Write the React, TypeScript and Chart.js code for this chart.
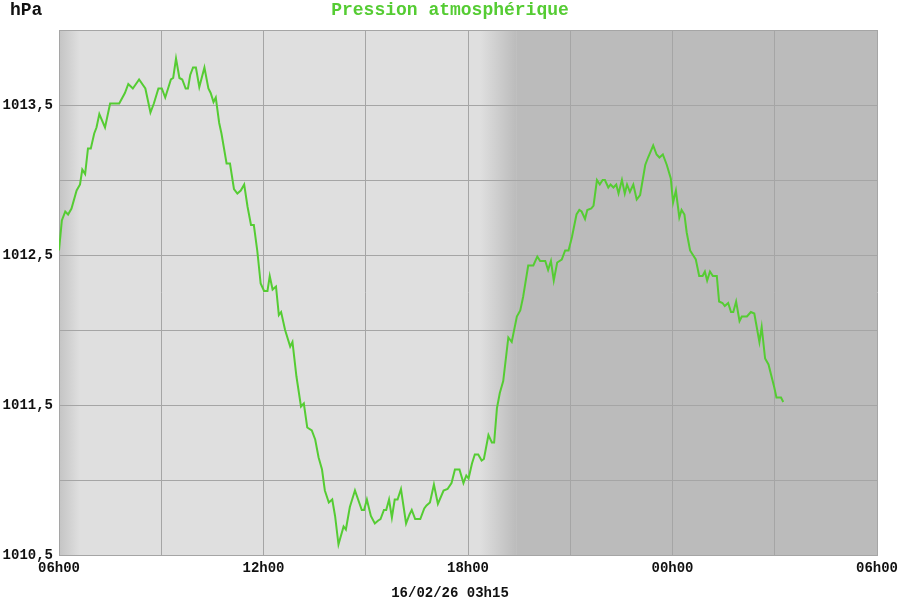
import React, { useEffect, useRef } from "react";
import { Chart, registerables } from "chart.js";

Chart.register(...registerables);

// Minutes elapsed since 06h00 (16/02/26 06h00 -> next day 06h00)
const minutes = [
  0, 5, 11, 16, 22, 31, 37, 41, 46, 51, 56, 62, 66, 71, 81, 90, 106, 116, 122, 130,
  141, 152, 161, 167, 175, 181, 187, 192, 197, 201, 206, 212, 217, 223, 227, 231, 236, 241, 247, 256,
  263, 267, 272, 276, 282, 286, 295, 301, 308, 314, 320, 326, 332, 338, 343, 349, 355, 361, 367, 371,
  376, 382, 387, 391, 398, 407, 411, 418, 426, 431, 437, 445, 451, 457, 463, 468, 475, 481, 486, 492,
  501, 505, 512, 521, 533, 537, 542, 549, 556, 562, 566, 572, 576, 581, 586, 591, 596, 602, 611, 617,
  621, 627, 636, 643, 647, 653, 660, 667, 677, 684, 691, 697, 705, 712, 717, 721, 727, 732, 738, 744,
  748, 756, 762, 766, 771, 776, 782, 791, 797, 806, 812, 817, 826, 835, 842, 847, 856, 861, 866, 871,
  877, 885, 891, 897, 903, 911, 916, 920, 926, 930, 937, 941, 947, 952, 957, 961, 967, 971, 976, 981,
  985, 991, 996, 1000, 1005, 1011, 1017, 1023, 1032, 1037, 1046, 1052, 1057, 1063, 1070, 1077, 1081, 1086, 1092, 1096,
  1101, 1105, 1111, 1121, 1127, 1133, 1137, 1141, 1146, 1151, 1158, 1162, 1168, 1172, 1178, 1183, 1187, 1192, 1198, 1202,
  1211, 1218, 1224, 1233, 1237, 1243, 1249, 1259, 1263, 1271, 1275,
];

// Pression (hPa)
const pressure = [
  1012.53, 1012.73, 1012.79, 1012.77, 1012.81, 1012.93, 1012.97, 1013.07, 1013.04, 1013.21, 1013.21, 1013.31, 1013.35, 1013.44, 1013.35, 1013.51, 1013.51, 1013.58, 1013.64, 1013.61,
  1013.67, 1013.61, 1013.45, 1013.51, 1013.61, 1013.61, 1013.55, 1013.61, 1013.67, 1013.68, 1013.81, 1013.68, 1013.67, 1013.61, 1013.61, 1013.70, 1013.75, 1013.75, 1013.62, 1013.75,
  1013.61, 1013.58, 1013.52, 1013.55, 1013.38, 1013.31, 1013.11, 1013.11, 1012.94, 1012.91, 1012.93, 1012.97, 1012.82, 1012.70, 1012.70, 1012.53, 1012.31, 1012.26, 1012.26, 1012.36,
  1012.27, 1012.29, 1012.10, 1012.12, 1012.00, 1011.89, 1011.92, 1011.69, 1011.49, 1011.51, 1011.35, 1011.33, 1011.27, 1011.15, 1011.07, 1010.93, 1010.85, 1010.87, 1010.76, 1010.57,
  1010.69, 1010.67, 1010.82, 1010.93, 1010.80, 1010.80, 1010.87, 1010.76, 1010.71, 1010.73, 1010.74, 1010.80, 1010.80, 1010.87, 1010.75, 1010.87, 1010.87, 1010.94, 1010.71, 1010.77,
  1010.80, 1010.74, 1010.74, 1010.81, 1010.83, 1010.85, 1010.97, 1010.84, 1010.93, 1010.94, 1010.98, 1011.07, 1011.07, 1010.98, 1011.03, 1011.01, 1011.11, 1011.17, 1011.17, 1011.13,
  1011.14, 1011.30, 1011.25, 1011.25, 1011.48, 1011.58, 1011.66, 1011.95, 1011.92, 1012.09, 1012.13, 1012.22, 1012.43, 1012.43, 1012.49, 1012.46, 1012.46, 1012.40, 1012.46, 1012.33,
  1012.45, 1012.47, 1012.53, 1012.53, 1012.62, 1012.77, 1012.80, 1012.79, 1012.74, 1012.80, 1012.81, 1012.83, 1013.00, 1012.97, 1013.00, 1013.00, 1012.95, 1012.97, 1012.95, 1012.97,
  1012.91, 1013.00, 1012.91, 1012.97, 1012.92, 1012.97, 1012.87, 1012.90, 1013.10, 1013.15, 1013.23, 1013.17, 1013.15, 1013.17, 1013.10, 1013.01, 1012.85, 1012.93, 1012.75, 1012.80,
  1012.77, 1012.65, 1012.53, 1012.47, 1012.36, 1012.36, 1012.39, 1012.33, 1012.39, 1012.36, 1012.36, 1012.19, 1012.18, 1012.16, 1012.18, 1012.12, 1012.12, 1012.19, 1012.06, 1012.09,
  1012.09, 1012.12, 1012.11, 1011.92, 1012.02, 1011.81, 1011.77, 1011.62, 1011.55, 1011.55, 1011.52,
];

const xTickHours = ["06h00", "09h00", "12h00", "15h00", "18h00", "21h00", "00h00", "03h00", "06h00"];
const xTickShown = [true, false, true, false, true, false, true, false, true];
const titleText = "Pression atmosphérique";
const unitText = "hPa";
const dateText = "16/02/26 03h15";
// Night shading: fade starts/ends (minutes since 06h00)
const nightFade = [741, 806];
const edgeFade = [0, 37];

const FONT = "'Liberation Mono', 'DejaVu Sans Mono', monospace";
const GREEN = "#55cc33";

const bgPlugin = {
  id: "bgPlugin",
  beforeDraw(chart: any) {
    const { ctx, chartArea, scales } = chart;
    const { left, right, top, bottom } = chartArea;
    const xs = scales.x;
    ctx.save();
    ctx.fillStyle = "#ffffff";
    ctx.fillRect(0, 0, chart.width, chart.height);
    ctx.fillStyle = "#dfdfdf";
    ctx.fillRect(left, top, right - left, bottom - top);
    const e0 = xs.getPixelForValue(edgeFade[0]);
    const e1 = xs.getPixelForValue(edgeFade[1]);
    const g1 = ctx.createLinearGradient(e0, 0, e1, 0);
    g1.addColorStop(0, "#c4c4c4");
    g1.addColorStop(1, "#dfdfdf");
    ctx.fillStyle = g1;
    ctx.fillRect(e0, top, e1 - e0, bottom - top);
    const n0 = xs.getPixelForValue(nightFade[0]);
    const n1 = xs.getPixelForValue(nightFade[1]);
    const g2 = ctx.createLinearGradient(n0, 0, n1, 0);
    g2.addColorStop(0, "#dfdfdf");
    g2.addColorStop(1, "#bbbbbb");
    ctx.fillStyle = g2;
    ctx.fillRect(n0, top, n1 - n0, bottom - top);
    ctx.fillStyle = "#bbbbbb";
    ctx.fillRect(n1, top, right - n1, bottom - top);
    ctx.restore();
  },
  afterDraw(chart: any) {
    const { ctx } = chart;
    ctx.save();
    ctx.textBaseline = "alphabetic";
    ctx.font = `bold 18px ${FONT}`;
    ctx.fillStyle = "#111111";
    ctx.textAlign = "left";
    ctx.fillText(unitText, 10, 15);
    ctx.fillStyle = GREEN;
    ctx.textAlign = "center";
    ctx.fillText(titleText, 450, 15);
    ctx.font = `bold 14px ${FONT}`;
    ctx.fillStyle = "#111111";
    ctx.fillText(dateText, 450, 597);
    ctx.restore();
  },
};

export default function App() {
  const ref = useRef<HTMLCanvasElement | null>(null);
  useEffect(() => {
    if (!ref.current) return;
    const data = minutes.map((m, i) => ({ x: m, y: pressure[i] }));
    const chart = new Chart(ref.current, {
      type: "line",
      data: {
        datasets: [
          {
            data,
            borderColor: GREEN,
            borderWidth: 2,
            pointRadius: 0,
            tension: 0,
            fill: false,
          },
        ],
      },
      options: {
        animation: false,
        responsive: false,
        devicePixelRatio: 1,
        layout: { padding: { top: 30, right: 23, left: 0, bottom: 0 } },
        plugins: { legend: { display: false }, tooltip: { enabled: false }, title: { display: false } },
        scales: {
          x: {
            type: "linear",
            min: 0,
            max: 1440,
            afterFit: (s: any) => { s.height = 45; s.paddingLeft = 0; s.paddingRight = 0; },
            grid: { color: "#a5a5a5", lineWidth: 1, drawTicks: false },
            border: { color: "#a5a5a5" },
            ticks: {
              stepSize: 180,
              autoSkip: false,
              maxRotation: 0,
              padding: 5,
              color: "#111111",
              font: { family: FONT, size: 14, weight: "bold" },
              callback: (v: any) => {
                const i = Math.round(Number(v) / 180);
                return xTickShown[i] ? xTickHours[i] : "";
              },
            },
          },
          y: {
            min: 1010.5,
            max: 1014,
            afterFit: (s: any) => { s.width = 59; s.paddingTop = 0; s.paddingBottom = 0; },
            grid: { color: "#a5a5a5", lineWidth: 1, drawTicks: false },
            border: { color: "#a5a5a5" },
            ticks: {
              stepSize: 0.5,
              autoSkip: false,
              padding: 6,
              color: "#111111",
              font: { family: FONT, size: 14, weight: "bold" },
              callback: (v: any) => {
                const n = Number(v);
                if (Math.abs((n % 1) - 0.5) > 0.01) return "";
                return n.toFixed(1).replace(".", ",");
              },
            },
          },
        },
      },
      plugins: [bgPlugin],
    });
    return () => chart.destroy();
  }, []);
  return (
    <div style={{ position: "absolute", left: 0, top: 0, width: 900, height: 600 }}>
      <canvas ref={ref} width={900} height={600} style={{ display: "block" }} />
    </div>
  );
}
